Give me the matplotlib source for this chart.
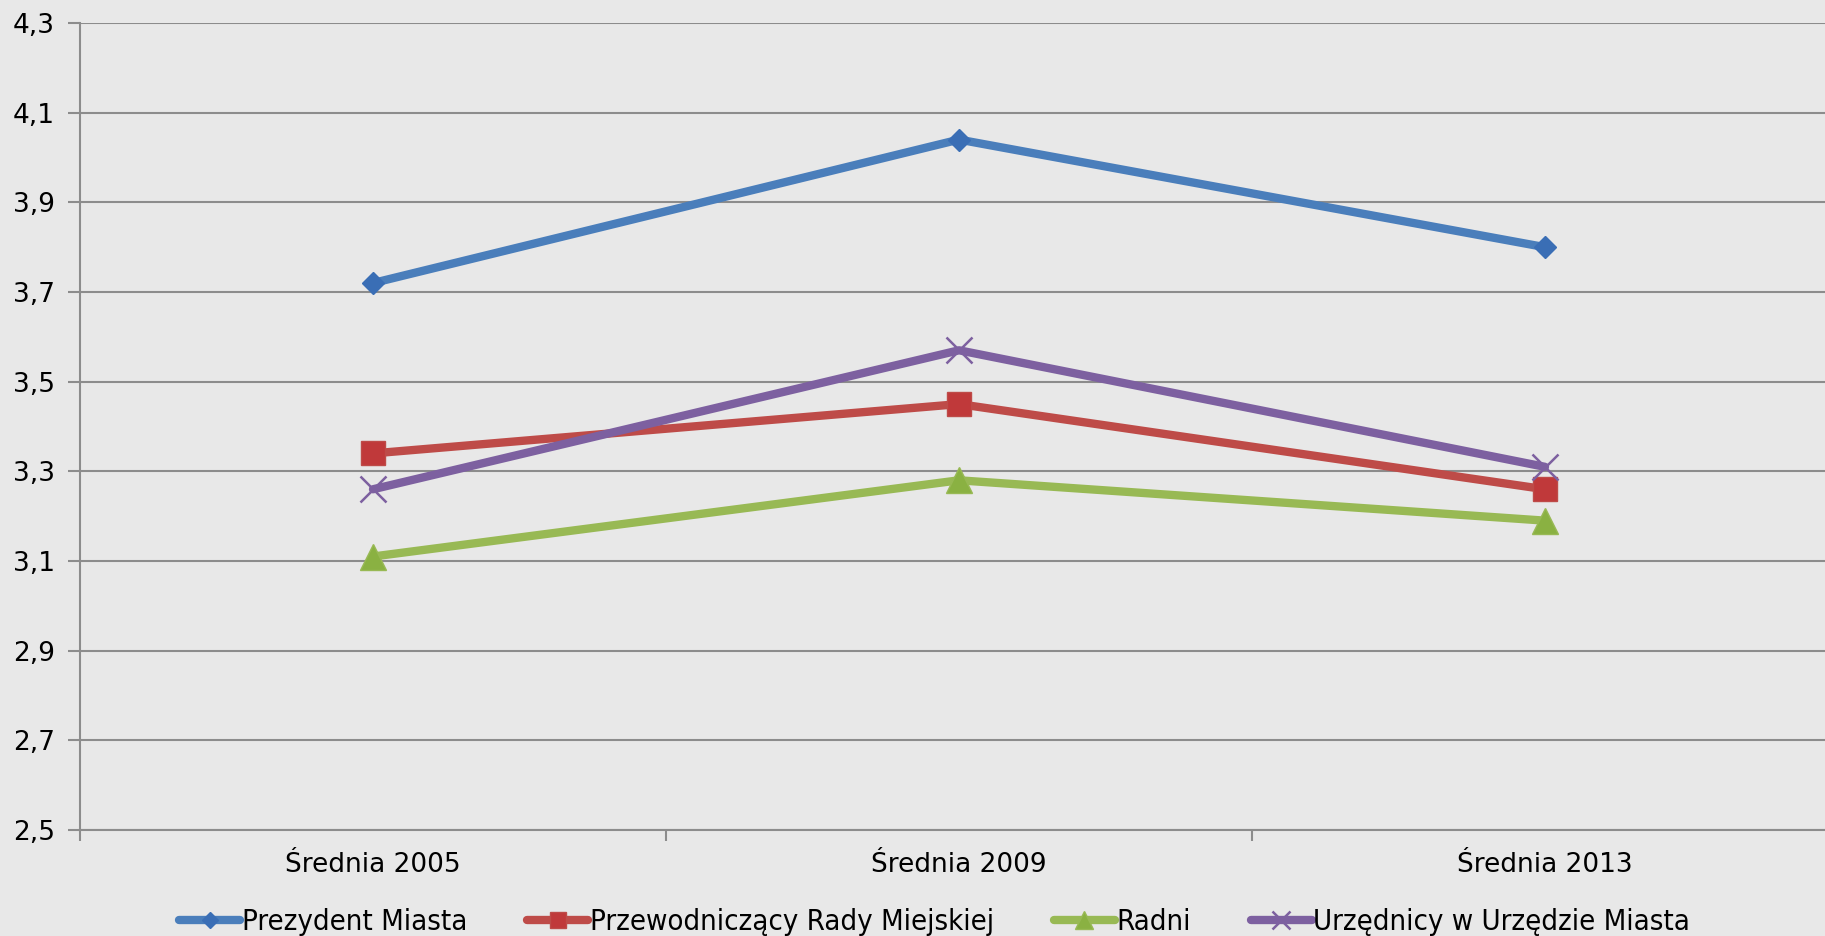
import matplotlib
matplotlib.use("Agg")
import matplotlib.pyplot as plt

# data
categories = ["Średnia 2005", "Średnia 2009", "Średnia 2013"]
prezydent = [3.72, 4.04, 3.80]
przewodniczacy = [3.34, 3.45, 3.26]
radni = [3.11, 3.28, 3.19]
urzednicy = [3.26, 3.57, 3.31]

series_names = ["Prezydent Miasta", "Przewodniczący Rady Miejskiej",
                "Radni", "Urzędnicy w Urzędzie Miasta"]
yticks = [2.5, 2.7, 2.9, 3.1, 3.3, 3.5, 3.7, 3.9, 4.1, 4.3]

bg = "#E8E8E8"
grid_col = "#8C8C8C"

plt.rcParams["font.family"] = ["DejaVu Sans"]

fig = plt.figure(figsize=(18.25, 9.36), dpi=100, facecolor=bg)
ax = fig.add_axes([80 / 1825, 106 / 936, 1758 / 1825, 807 / 936])
ax.set_facecolor(bg)

x = [i + 0.5 for i in range(len(categories))]

styles = [
    (prezydent, "#4A7EBB", "D", 11, "#3A6EB5", "#3A6EB5", 1.0),
    (przewodniczacy, "#BE4B48", "s", 17, "#C0393A", "#BE4B48", 1.0),
    (radni, "#98B954", "^", 19, "#8AB142", "#98B954", 1.0),
    (urzednicy, "#7D60A0", "x", 19, "#7D60A0", "#7D60A0", 1.8),
]

handles = []
for (vals, col, mk, ms, mfc, mec, mew), name in zip(styles, series_names):
    h, = ax.plot(x, vals, color=col, lw=6, marker=mk, markersize=ms,
                 markerfacecolor=mfc, markeredgecolor=mec, markeredgewidth=mew,
                 solid_capstyle="round", label=name, zorder=3)
    handles.append(h)

ax.set_xlim(0, 3)
ax.set_ylim(2.5, 4.3)
ax.set_yticks(yticks)
ax.set_yticklabels([f"{v:.1f}".replace(".", ",") for v in yticks], fontsize=19)
ax.set_xticks(x)
ax.set_xticklabels(categories, fontsize=19)
ax.set_xticks([0, 1, 2, 3], minor=True)

ax.yaxis.grid(True, color=grid_col, lw=1.5)
ax.set_axisbelow(True)
ax.tick_params(axis="y", length=9, width=1.5, color=grid_col, pad=9)
ax.tick_params(axis="x", which="major", length=0, pad=16)
ax.tick_params(axis="x", which="minor", length=8, width=1.5, color=grid_col)

for s in ["top", "right"]:
    ax.spines[s].set_visible(False)
ax.spines["left"].set_color(grid_col)
ax.spines["left"].set_linewidth(1.5)
ax.spines["bottom"].set_color(grid_col)
ax.spines["bottom"].set_linewidth(1.5)

leg = fig.legend(handles=handles, loc="center left", bbox_to_anchor=(179 / 1825, 14 / 936),
                 ncol=4, frameon=False, handlelength=2.1, handletextpad=0.05,
                 columnspacing=2.05, borderaxespad=0, borderpad=0,
                 prop={"family": "DejaVu Sans", "stretch": "condensed", "size": 21})
for lh in leg.legend_handles:
    lh.set_markersize(lh.get_markersize() * 0.7)

fig.savefig("out.png", dpi=100, facecolor=bg)
